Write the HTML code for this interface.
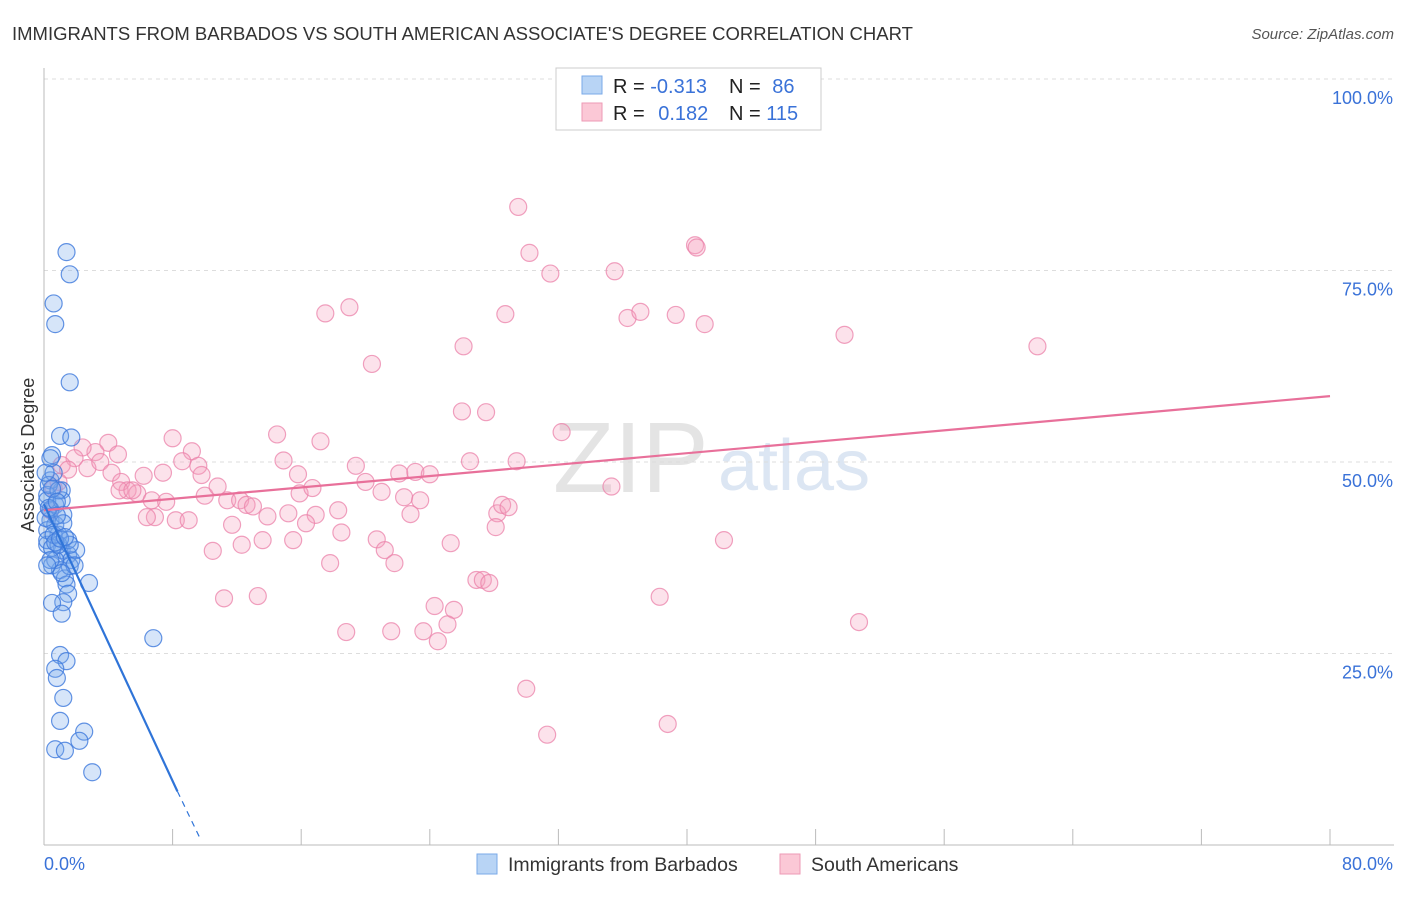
<!DOCTYPE html>
<html><head><meta charset="utf-8"><style>
body{margin:0;background:#fff;font-family:"Liberation Sans",sans-serif;}
svg text{font-family:"Liberation Sans",sans-serif;}
</style></head><body>
<svg id="chart" width="1406" height="892" viewBox="0 0 1406 892" xmlns="http://www.w3.org/2000/svg">
<text x="12" y="40" font-size="18.5" fill="#333">IMMIGRANTS FROM BARBADOS VS SOUTH AMERICAN ASSOCIATE'S DEGREE CORRELATION CHART</text>
<text x="1394" y="39" font-size="15" fill="#555" text-anchor="end" font-style="italic">Source: ZipAtlas.com</text>
<text x="553" y="492" font-size="100" fill="#e4e4e4" font-family="Liberation Serif">ZIP</text>
<text x="718" y="490" font-size="72" fill="#dce6f3">atlas</text>
<g id="grid"></g>
<g id="axes"></g>
<g id="pts"></g>
<g id="lines"></g>
<text transform="translate(34,455) rotate(-90)" font-size="18" fill="#333" text-anchor="middle">Associate's Degree</text>
<g>
<rect x="556" y="68" width="265" height="62" fill="#fff" stroke="#ccc"/>
<rect x="582" y="76" width="20" height="18" fill="#b8d4f5" stroke="#7aaae8"/>
<rect x="582" y="103" width="20" height="18" fill="#fbc8d6" stroke="#ee9ab5"/>
<text x="613" y="93" font-size="20" fill="#222">R = <tspan fill="#3a72d8">-0.313</tspan></text>
<text x="729" y="93" font-size="20" fill="#222">N = <tspan fill="#3a72d8" dx="6">86</tspan></text>
<text x="613" y="120" font-size="20" fill="#222">R = <tspan fill="#3a72d8" dx="8">0.182</tspan></text>
<text x="729" y="120" font-size="20" fill="#222">N = <tspan fill="#3a72d8">115</tspan></text>
</g>
<g>
<rect x="477" y="854" width="20" height="20" fill="#b8d4f5" stroke="#7aaae8"/>
<text x="508" y="871" font-size="19.5" fill="#333">Immigrants from Barbados</text>
<rect x="780" y="854" width="20" height="20" fill="#fbc8d6" stroke="#ee9ab5"/>
<text x="811" y="871" font-size="19.5" fill="#333">South Americans</text>
</g>
</svg>
<script>
const blueX=[1.4,1.6,0.6,0.7,1.6,1.0,1.7,0.5,1.1,0.4,0.2,0.7,0.4,0.9,0.2,1.1,1.5,1.7,0.5,1.0,1.3,1.6,2.0,1.5,0.7,0.4,0.2,1.1,0.6,0.3,0.9,1.2,0.2,0.7,1.4,2.8,1.5,1.2,0.5,1.1,6.8,1.0,1.4,0.7,0.8,1.2,1.0,2.5,2.2,0.7,1.3,3.0,0.2,0.5,0.9,1.6,1.9,0.4,0.1,0.1,0.6,0.7,1.0,1.2,0.3,0.5,0.8,1.3,0.2,0.4,1.1,0.8];
const blueY=[77.4,74.5,70.7,68,60.4,53.4,53.2,50.9,46.3,47.6,45.7,44.4,42.4,40.5,39.2,38.5,37.9,37.2,36.5,35.9,34.8,36.4,38.5,39.8,41.8,43.8,45.0,45.0,48.6,47.0,46.3,43.1,41.1,37.2,34.0,34.2,32.8,31.7,31.6,30.2,27.0,24.8,24.0,23.0,21.8,19.2,16.2,14.8,13.6,12.5,12.3,9.5,39.8,38.8,39.2,39.2,36.5,37.2,48.6,42.7,40.5,39.5,40.0,42.0,44.0,46.5,44.8,40.2,36.5,50.5,35.5,43.0];
const pinkX=[29.5,30.2,31.5,35.5,40.5,40.6,19,17.5,28.7,36.3,37.1,39.3,41.1,49.8,61.8,26.1,20.4,26,27.5,32.2,8,14.5,17.2,9.2,8.6,9.6,9.8,7.4,6.2,4,4.6,3.2,2.4,1.9,1.1,1.5,2.7,3.5,4.2,4.8,5.2,5.8,6.7,7.6,6.9,6.4,8.2,9,10,10.8,11.4,12.2,12.6,13,11.7,13.9,14.9,15.8,15.9,16.7,15.2,16.9,16.3,15.5,13.6,12.3,10.5,11.2,13.3,17.8,18.5,18.3,18.8,19.4,20,21,20.7,21.2,21.8,21.6,22.1,23.1,24,22.4,23.4,22.8,23.6,24.5,24.3,25.5,25.1,25.3,26.5,28.2,28.5,28.9,28.1,29.4,26.9,27.3,27.7,30,31.3,35.3,38.3,38.8,42.3,50.7,0.6,0.9,0.4,4.7,5.5];
const pinkY=[83.3,77.3,74.6,74.9,78.3,78.0,70.2,69.4,69.3,68.8,69.6,69.2,68,66.6,65.1,65.1,62.8,56.6,56.5,53.9,53.1,53.6,52.7,51.4,50.1,49.5,48.3,48.6,48.2,52.5,51,51.3,51.9,50.5,49.6,49,49.2,50,48.6,47.4,46.3,45.9,45,44.8,42.8,42.8,42.4,42.4,45.6,46.8,45,45,44.4,44.2,41.8,42.9,50.2,48.4,45.9,46.6,43.3,43.1,42,39.8,39.8,39.2,38.4,32.2,32.5,36.8,40.8,43.7,27.8,49.5,47.4,46.1,39.9,38.5,36.8,27.9,48.5,48.7,48.4,45.4,45,43.2,27.9,26.6,31.2,30.7,28.8,39.4,50.1,43.3,44.4,44.1,41.5,50.1,34.6,34.6,34.2,20.4,14.4,46.8,32.4,15.8,39.8,29.1,46.6,47.4,43.7,46.3,46.3];
const xTicks=[0,8,16,24,32,40,48,56,64,72,80];
const yTicks=[25,50,75,100];
const blueTrend=[44.5,-0.313];
const pinkTrend=[43.7,58.6];
const blueTrendEnd=[8.3,7.0];
const blueDashEnd=[9.7,0.9];
const NS="http://www.w3.org/2000/svg";
const X0=44,X1=1330,Y0=845,Y100=79;
const sx=v=>X0+(X1-X0)*v/80, sy=v=>Y0-(Y0-Y100)*v/100;
function mk(tag,attrs,parent){const e=document.createElementNS(NS,tag);for(const k in attrs)e.setAttribute(k,attrs[k]);parent.appendChild(e);return e;}
const grid=document.getElementById('grid'),axes=document.getElementById('axes'),pts=document.getElementById('pts'),lines=document.getElementById('lines');
yTicks.forEach(t=>{
 const l=mk('line',{x1:X0,x2:1394,y1:sy(t),y2:sy(t),stroke:'#ddd','stroke-dasharray':'4,4'},grid);
 
 
 const tx=mk('text',{x:1393,y:sy(t)+25,'font-size':18,fill:'#3a72d8','text-anchor':'end'},axes);
 tx.textContent=t.toFixed(1)+'%';
 
 
});
const yl=mk('line',{x1:X0,x2:X0,y1:68,y2:Y0,stroke:'#bbb'},axes);


const xl=mk('line',{x1:X0,x2:1394,y1:Y0,y2:Y0,stroke:'#bbb'},axes);


xTicks.forEach(t=>{
 const l=mk('line',{x1:sx(t),x2:sx(t),y1:Y0,y2:Y0-16,stroke:'#bbb'},axes);
 
 
});
[[0,'start',X0],[80,'end',1393]].forEach(([t,a,x])=>{
 const tx=mk('text',{x:x,y:870,'font-size':18,fill:'#3a72d8','text-anchor':a},axes);
 tx.textContent=t.toFixed(1)+'%';
 
 
});
pinkX.forEach((v,i)=>{
 const c=mk('circle',{cx:sx(v),cy:sy(pinkY[i]),r:8.5,fill:'rgba(245,160,190,0.3)',stroke:'rgba(235,130,170,0.75)','stroke-width':1.2},pts);
 
 
});
blueX.forEach((v,i)=>{
 const c=mk('circle',{cx:sx(v),cy:sy(blueY[i]),r:8.5,fill:'rgba(120,170,235,0.3)',stroke:'rgba(60,120,220,0.8)','stroke-width':1.2},pts);
 
 
});
const pl=mk('line',{x1:sx(0),y1:sy(pinkTrend[0]),x2:sx(80),y2:sy(pinkTrend[1]),stroke:'#e8709a','stroke-width':2.2},lines);


const bl=mk('line',{x1:sx(0),y1:sy(blueTrend[0]),x2:sx(blueTrendEnd[0]),y2:sy(blueTrendEnd[1]),stroke:'#2f74d8','stroke-width':2.2},lines);


const bd=mk('line',{x1:sx(blueTrendEnd[0]),y1:sy(blueTrendEnd[1]),x2:sx(blueDashEnd[0]),y2:sy(blueDashEnd[1]),stroke:'#2f74d8','stroke-width':1.2,'stroke-dasharray':'6,5'},lines);


</script>
</body></html>
